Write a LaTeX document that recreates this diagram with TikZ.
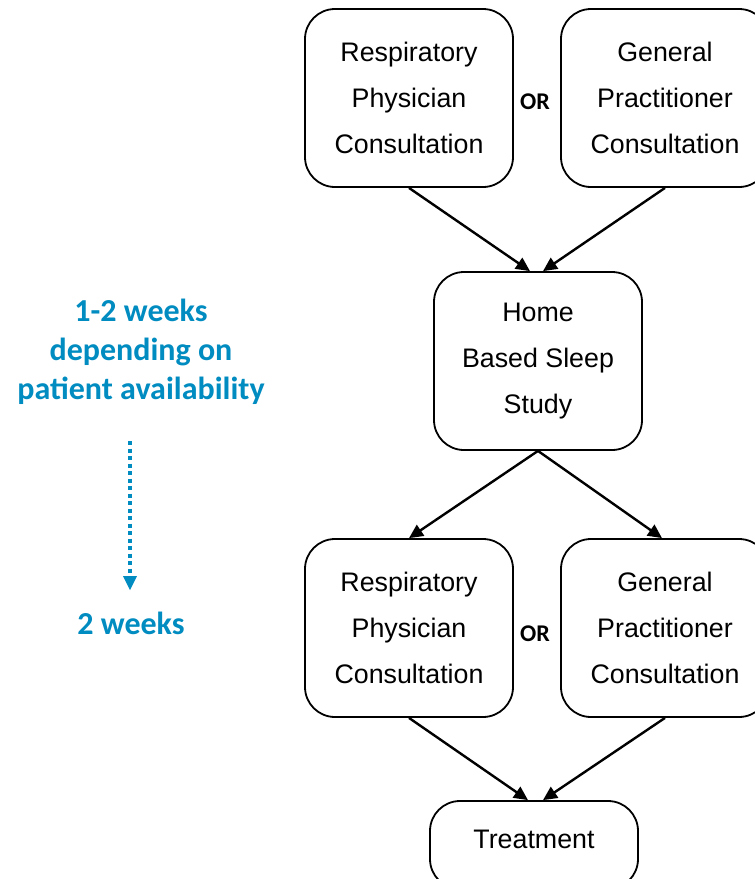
\documentclass[tikz,border=0pt]{standalone}
\usepackage{fontspec}
\setmainfont{Liberation Sans}
\newfontfamily\calib{Carlito}
\usetikzlibrary{arrows.meta}
\definecolor{bluetxt}{RGB}{0,140,192}
\tikzset{
  box/.style={draw=black, line width=1.8pt, rounded corners=30pt, minimum width=208pt, minimum height=178pt, align=center, font=\fontsize{26.8}{46}\selectfont, inner sep=0pt},
  conn/.style={line width=2.4pt, -{Triangle[length=14pt,width=13pt]}},
  ortext/.style={font=\calib\bfseries\fontsize{24}{26}\selectfont},
  bluelbl/.style={text=bluetxt, align=center, font=\calib\bfseries\fontsize{32}{39}\selectfont}
}
\begin{document}
\begin{tikzpicture}[x=1pt,y=-1pt]
\clip (0,0) rectangle (755,879);
\fill[white] (0,0) rectangle (755,879);
\node[box] (rp1) at (409,98) {Respiratory\\Physician\\Consultation};
\node[box] (gp1) at (665,98) {General\\Practitioner\\Consultation};
\node[ortext] (or1) at (535,102) {OR};
\node[box] (home) at (538,361) {Home\\Based Sleep\\Study};
\node[box] (rp2) at (409,628) {Respiratory\\Physician\\Consultation};
\node[box] (gp2) at (665,628) {General\\Practitioner\\Consultation};
\node[ortext] (or2) at (535,634) {OR};
\node[box, minimum height=88pt] (treat) at (534,845) {};
\node[font=\fontsize{26.8}{30}\selectfont] (treattxt) at (534,839) {Treatment};
\draw[conn] (rp1.south) -- ([xshift=-8pt]home.north);
\draw[conn] (gp1.south) -- ([xshift=5pt]home.north);
\draw[conn] (home.south) -- (rp2.north);
\draw[conn] (home.south) -- ([xshift=-3pt]gp2.north);
\draw[conn] (rp2.south) -- ([xshift=-6pt]treat.north);
\draw[conn] (gp2.south) -- ([xshift=9pt]treat.north);
\node[bluelbl] (wk1) at (141,352) {1-2 weeks\\depending on\\patient availability};
\node[bluelbl] (wk2) at (131,623) {2 weeks};
\coordinate (dstart) at (130,441);
\coordinate (dend) at (130,590);
\draw[draw=bluetxt, line width=4pt, dash pattern=on 4pt off 3.5pt, -{Triangle[length=14pt,width=14pt,fill=bluetxt,line width=0pt]}] (dstart) -- (dend);
\end{tikzpicture}
\end{document}
